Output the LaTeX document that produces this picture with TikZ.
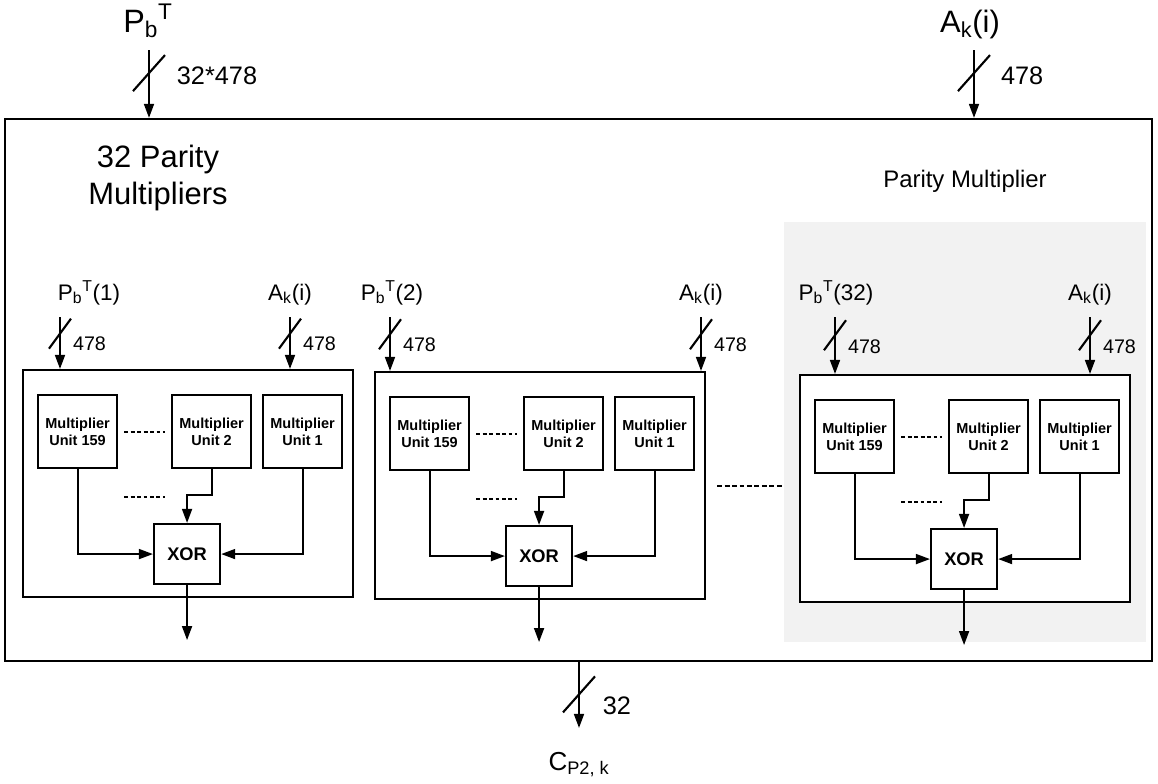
\documentclass[tikz,border=0pt]{standalone}
\usepackage{fontspec}
\setmainfont{Liberation Sans}
\usetikzlibrary{arrows.meta,positioning,fit}
\newcommand{\fsz}[2]{\fontsize{#1}{#2}\selectfont}

\begin{document}
\begin{tikzpicture}[x=0.025cm, y=-0.025cm, line width=1.5pt,
  pbox/.style={draw, fill=white, minimum width=8.25cm, minimum height=5.675cm, inner sep=0pt},
  unit/.style={draw, fill=white, align=center, font=\bfseries\fsz{10.3}{12},
               minimum width=1.975cm, minimum height=1.825cm, inner sep=0pt},
  xorbox/.style={draw, fill=white, font=\bfseries\fsz{13}{13},
                 minimum width=1.65cm, minimum height=1.5cm, inner sep=0pt},
  arr/.style={-{Triangle[length=10pt, width=7pt]}},
  dots/.style={dash pattern=on 2.8pt off 1.8pt, line width=1.4pt},
  mdots/.style={dash pattern=on 3.5pt off 1.8pt, line width=1.4pt},
  lbl/.style={inner sep=0pt, anchor=base},
  bus/.style={inner sep=0pt},
  busmark/.pic={\draw[line width=1.5pt] (-11,15) -- (11,-15);},
  bigmark/.pic={\draw[line width=1.5pt] (-16,18) -- (16,-18);}]
  \useasboundingbox (0,0) rectangle (1158,783);

  % outer frame and shaded group
  \node[draw, fit={(5,119) (1152,661)}, inner sep=0pt] (outer) {};
  \node[fill=black!5, fit={(784,222) (1146,642)}, inner sep=0pt] (grp) {};
  \node[font=\fsz{22}{26}, align=center] (title) at (158,178) {32 Parity\\Multipliers};
  \node[font=\fsz{17}{17}, lbl] (grplbl) at (965,187) {Parity Multiplier};

  % top inputs
  \node[lbl, font=\fsz{23}{23}] (pbt) at (148,32) {P\textsubscript{b}\textsuperscript{T}};
  \node[lbl, font=\fsz{22}{22}] (akt) at (970,32) {A\textsubscript{k}(i)};
  \coordinate (pin) at (149,50);
  \coordinate (ain) at (974,50);
  \draw[arr] (pin) -- (pin |- outer.north) coordinate[pos=0.34] (pinm)
    node[bus, font=\fsz{18}{18}, pos=0.38, right=6.7mm] {32*478};
  \draw[arr] (ain) -- (ain |- outer.north) coordinate[pos=0.34] (ainm)
    node[bus, font=\fsz{18}{18}, pos=0.38, right=6.5mm] {478};
  \pic at (pinm) {bigmark};
  \pic at (ainm) {bigmark};

  % output
  \node[lbl, font=\fsz{18.5}{18.5}] (cp) at (579,770) {C\textsubscript{P2, k}};
  \coordinate (cout) at (579,728);
  \draw[arr] (cout |- outer.south) -- (cout) coordinate[pos=0.49] (coutm)
    node[bus, font=\fsz{18}{18}, pos=0.66, right=5.7mm] {32};
  \pic at (coutm) {bigmark};

  % the three parity multipliers
  \foreach \i/\L/\T/\px/\ax/\plx/\n in {1/22/369/60/290/89/1, 2/374/371/390/701/392/2, 3/799/374/835/1090/836/32} {
    \node[pbox, anchor=north west] (b\i) at (\L,\T) {};
    \node[unit, anchor=north west] (m159-\i) at ([shift={(15,25)}]b\i.north west) {Multiplier\\Unit 159};
    \node[unit, anchor=north west] (m2-\i) at ([shift={(149,25)}]b\i.north west) {Multiplier\\Unit 2};
    \node[unit, anchor=north west] (m1-\i) at ([shift={(240,25)}]b\i.north west) {Multiplier\\Unit 1};
    \node[xorbox, anchor=north west] (xor\i) at ([shift={(131,154)}]b\i.north west) {XOR};
    \draw[dots] ([xshift=4.3pt]m159-\i.east) -- ([xshift=-4.3pt]m2-\i.west);
    \draw[dots] ([shift={(6,65.5)}]m159-\i.east) -- ([shift={(-6,65.5)}]m2-\i.west);
    \draw[arr] (m159-\i.south) |- (xor\i.west);
    \draw[arr] (m1-\i.south) |- (xor\i.east);
    \draw[arr] (m2-\i.south) -- ++(0,26) -| (xor\i.north);
    \draw[arr] (xor\i.south) -- ++(0,55) coordinate (o\i);
    % bus inputs
    \node[lbl, font=\fsz{16}{16}] (pl\i) at (\plx,300) {P\textsubscript{b}\textsuperscript{T}(\n)};
    \node[lbl, font=\fsz{16}{16}] (al\i) at (\ax,300) {A\textsubscript{k}(i)};
    \coordinate (pi\i) at (\px,317);
    \coordinate (ai\i) at (\ax,317);
    \draw[arr] (pi\i) -- (pi\i |- b\i.north) coordinate[pos=0.32] (pm\i)
      node[bus, font=\fsz{14}{14}, pos=0.52, right=3mm] {478};
    \draw[arr] (ai\i) -- (ai\i |- b\i.north) coordinate[pos=0.32] (am\i)
      node[bus, font=\fsz{14}{14}, pos=0.52, right=3mm] {478};
    \pic at (pm\i) {busmark};
    \pic at (am\i) {busmark};
  }
  \draw[mdots] ([xshift=7.8pt]b2.east) -- (grp.west |- b2.east);
\end{tikzpicture}
\end{document}
